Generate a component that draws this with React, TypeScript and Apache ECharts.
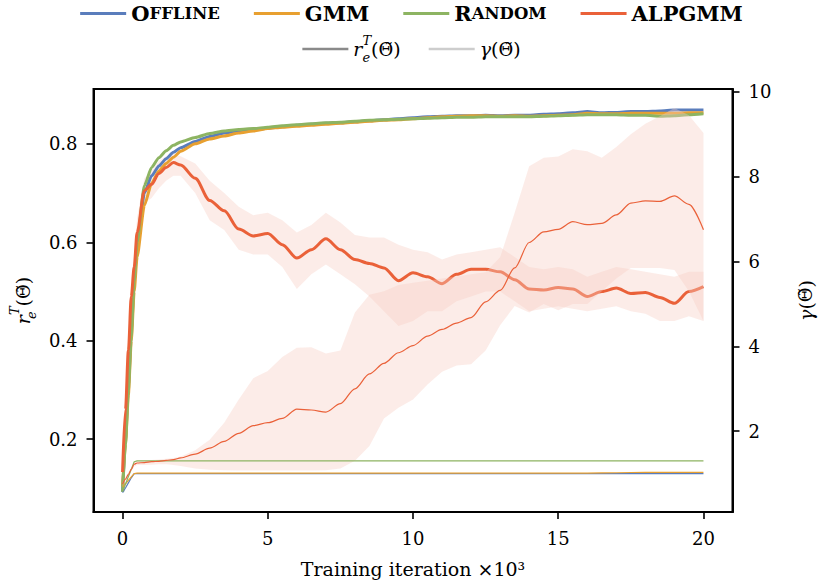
import React, { useEffect, useRef } from "react";
import * as echarts from "echarts";

// Training iterations (x 10^3)
const iterations = [
  0, 0.1, 0.2, 0.3, 0.4, 0.5, 0.75, 1, 1.25, 1.5, 1.75, 2,
  2.5, 3, 3.5, 4, 4.5, 5, 5.5, 6, 6.5, 7,
  7.5, 8, 8.5, 9, 9.5, 10, 10.5, 11, 11.5, 12,
  12.5, 13, 13.5, 14, 14.5, 15, 15.5, 16, 16.5, 17,
  17.5, 18, 18.5, 19, 19.5, 20,
];

// Reward r_e^T (left axis)
const offlineReward = [
  0.093, 0.2, 0.31, 0.42, 0.52, 0.59, 0.7, 0.735, 0.755, 0.77, 0.783, 0.792,
  0.805, 0.815, 0.822, 0.826, 0.829, 0.832, 0.835, 0.838, 0.84, 0.842,
  0.843, 0.845, 0.847, 0.849, 0.851, 0.853, 0.855, 0.856, 0.857, 0.857,
  0.858, 0.857, 0.858, 0.858, 0.86, 0.861, 0.863, 0.866, 0.863, 0.864,
  0.866, 0.866, 0.867, 0.869, 0.869, 0.869,
];
const gmmReward = [
  0.105, 0.19, 0.29, 0.4, 0.5, 0.57, 0.675, 0.72, 0.745, 0.76, 0.773, 0.785,
  0.8, 0.81, 0.816, 0.822, 0.826, 0.831, 0.834, 0.836, 0.838, 0.84,
  0.842, 0.844, 0.846, 0.848, 0.849, 0.851, 0.853, 0.855, 0.856, 0.857,
  0.857, 0.856, 0.857, 0.856, 0.857, 0.858, 0.859, 0.862, 0.861, 0.861,
  0.862, 0.862, 0.862, 0.862, 0.863, 0.863,
];
const randomReward = [
  0.093, 0.19, 0.3, 0.41, 0.52, 0.6, 0.715, 0.752, 0.772, 0.786, 0.797, 0.804,
  0.813, 0.821, 0.826, 0.829, 0.831, 0.834, 0.837, 0.839, 0.841, 0.843,
  0.844, 0.846, 0.848, 0.849, 0.85, 0.851, 0.852, 0.853, 0.854, 0.854,
  0.855, 0.855, 0.855, 0.855, 0.856, 0.857, 0.858, 0.859, 0.859, 0.859,
  0.858, 0.858, 0.856, 0.857, 0.859, 0.861,
];
const alpgmmReward = [
  0.133, 0.26, 0.38, 0.49, 0.55, 0.62, 0.705, 0.718, 0.74, 0.752, 0.762, 0.757,
  0.73, 0.685, 0.664, 0.627, 0.613, 0.618, 0.595, 0.568, 0.585, 0.607,
  0.585, 0.565, 0.557, 0.548, 0.522, 0.538, 0.53, 0.516, 0.535, 0.545,
  0.545, 0.54, 0.524, 0.505, 0.503, 0.508, 0.505, 0.49, 0.5, 0.507,
  0.496, 0.498, 0.488, 0.476, 0.5, 0.51,
];
const alpgmmRewardUpper = [
  0.14, 0.28, 0.41, 0.52, 0.58, 0.65, 0.73, 0.745, 0.765, 0.775, 0.78, 0.775,
  0.76, 0.725, 0.7, 0.672, 0.655, 0.66, 0.645, 0.62, 0.635, 0.66,
  0.64, 0.615, 0.61, 0.61, 0.595, 0.585, 0.58, 0.565, 0.575, 0.58,
  0.585, 0.59, 0.57, 0.55, 0.545, 0.55, 0.545, 0.53, 0.54, 0.55,
  0.545, 0.54, 0.535, 0.53, 0.54, 0.54,
];
const alpgmmRewardLower = [
  0.12, 0.24, 0.35, 0.46, 0.52, 0.59, 0.68, 0.69, 0.71, 0.725, 0.735, 0.735,
  0.7, 0.645, 0.625, 0.585, 0.575, 0.575, 0.55, 0.505, 0.535, 0.555,
  0.535, 0.515, 0.49, 0.46, 0.43, 0.44, 0.46, 0.46, 0.48, 0.49,
  0.5, 0.5, 0.48, 0.46, 0.465, 0.47, 0.465, 0.46, 0.465, 0.47,
  0.46, 0.455, 0.44, 0.44, 0.45, 0.44,
];

// gamma (right axis)
const offlineGamma = [
  0.55, 0.66, 0.78, 0.9, 1.0, 1.0, 1.0, 1.0, 1.0, 1.0, 1.0, 1.0,
  1.0, 1.0, 1.0, 1.0, 1.0, 1.0, 1.0, 1.0, 1.0, 1.0,
  1.0, 1.0, 1.0, 1.0, 1.0, 1.0, 1.0, 1.0, 1.0, 1.0,
  1.0, 1.0, 1.0, 1.0, 1.0, 1.0, 1.0, 1.0, 1.0, 1.0,
  1.0, 1.0, 1.0, 1.0, 1.0, 1.0,
];
const gmmGamma = [
  0.68, 0.76, 0.84, 0.92, 1.0, 1.01, 1.01, 1.01, 1.01, 1.01, 1.01, 1.01,
  1.01, 1.01, 1.01, 1.01, 1.01, 1.01, 1.01, 1.01, 1.01, 1.01,
  1.01, 1.01, 1.01, 1.01, 1.01, 1.01, 1.01, 1.01, 1.01, 1.01,
  1.01, 1.01, 1.01, 1.01, 1.01, 1.01, 1.01, 1.01, 1.015, 1.02,
  1.025, 1.03, 1.03, 1.03, 1.03, 1.03,
];
const randomGamma = [
  0.57, 0.75, 0.93, 1.1, 1.28, 1.3, 1.3, 1.3, 1.3, 1.3, 1.3, 1.3,
  1.3, 1.3, 1.3, 1.3, 1.3, 1.3, 1.3, 1.3, 1.3, 1.3,
  1.3, 1.3, 1.3, 1.3, 1.3, 1.3, 1.3, 1.3, 1.3, 1.3,
  1.3, 1.3, 1.3, 1.3, 1.3, 1.3, 1.3, 1.3, 1.3, 1.3,
  1.3, 1.3, 1.3, 1.3, 1.3, 1.3,
];
const alpgmmGamma = [
  0.75, 0.87, 0.98, 1.1, 1.22, 1.25, 1.26, 1.28, 1.29, 1.31, 1.33, 1.37,
  1.46, 1.6, 1.76, 1.95, 2.13, 2.2, 2.3, 2.52, 2.5, 2.45,
  2.65, 3.0, 3.35, 3.6, 3.85, 4.02, 4.24, 4.4, 4.55, 4.68,
  5.05, 5.32, 5.85, 6.45, 6.7, 6.76, 6.94, 6.87, 6.9, 7.1,
  7.38, 7.43, 7.42, 7.55, 7.35, 6.75,
];
const alpgmmGammaUpper = [
  0.8, 0.92, 1.03, 1.15, 1.27, 1.3, 1.31, 1.32, 1.33, 1.35, 1.37, 1.4,
  1.55, 1.8, 2.2, 2.75, 3.25, 3.42, 3.75, 3.97, 3.98, 3.83,
  3.9, 4.8, 5.22, 5.3, 5.45, 5.5, 5.55, 5.6, 5.65, 5.7,
  5.75, 6.1, 7.15, 8.25, 8.45, 8.48, 8.65, 8.6, 8.45, 8.7,
  9.0, 9.25, 9.43, 9.62, 9.45, 9.03,
];
const alpgmmGammaLower = [
  0.7, 0.82, 0.93, 1.05, 1.17, 1.2, 1.2, 1.21, 1.22, 1.22, 1.2, 1.18,
  1.12, 1.09, 1.08, 1.07, 1.07, 1.07, 1.07, 1.07, 1.07, 1.08,
  1.12, 1.3, 1.65, 2.3, 2.55, 2.75, 3.1, 3.4, 3.55, 3.58,
  3.9, 4.5, 4.95, 4.8, 5.0, 4.85, 5.0, 5.0, 5.3, 5.6,
  5.85, 5.85, 5.85, 5.8, 5.3, 4.6,
];

const xTicks = [0, 5, 10, 15, 20];
const leftTicks = [0.2, 0.4, 0.6, 0.8];
const rightTicks = [2, 4, 6, 8, 10];

const methodNames = ["Offline", "GMM", "Random", "ALPGMM"];
const methodColors = ["#5a7dbc", "#e8a030", "#8db462", "#ea6139"];

const SERIF = "DejaVu Serif";
const BAND_FILL = "rgba(247,205,195,0.38)";

const pairs = (ys: number[]) => iterations.map((x, i) => [x, ys[i]]);

const band = (lower: number[], upper: number[], yAxisIndex: number, z: number) => ({
  type: "custom",
  yAxisIndex,
  z,
  silent: true,
  clip: true,
  data: iterations.map((x, i) => [x, lower[i], upper[i]]),
  encode: { x: 0, y: [1, 2] },
  renderItem: (params: any, api: any) => {
    if (params.dataIndex !== 0) return null;
    const pts: number[][] = [];
    for (let i = 0; i < iterations.length; i++) pts.push(api.coord([iterations[i], upper[i]]));
    for (let i = iterations.length - 1; i >= 0; i--) pts.push(api.coord([iterations[i], lower[i]]));
    return { type: "polygon", shape: { points: pts }, style: { fill: BAND_FILL } };
  },
});

const mathRich = {
  i: { fontFamily: SERIF, fontStyle: "italic", fontSize: 19, lineHeight: 30, color: "#000" },
  n: { fontFamily: SERIF, fontSize: 19, lineHeight: 30, color: "#000" },
  t: { fontFamily: SERIF, fontSize: 18, lineHeight: 30, color: "#000" },
  sub: { fontFamily: SERIF, fontStyle: "italic", fontSize: 13, lineHeight: 13, width: 0, verticalAlign: "bottom", color: "#000" },
  sup: { fontFamily: SERIF, fontStyle: "italic", fontSize: 13, lineHeight: 13, verticalAlign: "top", color: "#000" },
};

const R_LABEL = "{i|r}{sub|e}{sup|T}{n|(}{t|Θ̃}{n|)}";
const G_LABEL = "{i|γ}{n|(}{t|Θ̃}{n|)}";

export default function App() {
  const ref = useRef<HTMLDivElement>(null);
  useEffect(() => {
    const chart = echarts.init(ref.current!, null, { renderer: "svg" });
    const rewards = [offlineReward, gmmReward, randomReward, alpgmmReward];
    const gammas = [offlineGamma, gmmGamma, randomGamma, alpgmmGamma];
    const series: any[] = [];
    series.push(band(alpgmmRewardLower, alpgmmRewardUpper, 0, 1));
    rewards.forEach((r, k) => {
      series.push({
        name: methodNames[k],
        type: "line",
        yAxisIndex: 0,
        z: 2,
        data: pairs(r),
        symbol: "none",
        smooth: k === 3 ? 0.3 : 0.2,
        smoothMonotone: "x",
        lineStyle: { color: methodColors[k], width: 3 },
        itemStyle: { color: methodColors[k] },
      });
    });
    series.push(band(alpgmmGammaLower, alpgmmGammaUpper, 1, 3));
    gammas.forEach((g, k) => {
      series.push({
        name: methodNames[k] + " γ",
        type: "line",
        yAxisIndex: 1,
        z: 4,
        data: pairs(g),
        symbol: "none",
        smooth: k === 3 ? 0.3 : 0,
        smoothMonotone: "x",
        lineStyle: { color: methodColors[k], width: 1.2 },
        itemStyle: { color: methodColors[k] },
      });
    });
    series.push({
      name: "rT", type: "line", yAxisIndex: 0, data: [], symbol: "none",
      lineStyle: { color: "#8a8a8a", width: 3 }, itemStyle: { color: "#8a8a8a" },
    });
    series.push({
      name: "gamma", type: "line", yAxisIndex: 1, data: [], symbol: "none",
      lineStyle: { color: "#cdcdcd", width: 1.6 }, itemStyle: { color: "#cdcdcd" },
    });

    const axisCommon = {
      axisLine: { show: true, onZero: false, lineStyle: { color: "#000", width: 2 } },
      splitLine: { show: false },
    };
    const tickStyle = { color: "#000", width: 1.6 };
    const labelStyle = { color: "#000", fontSize: 18, fontFamily: SERIF };

    chart.setOption({
      animation: false,
      backgroundColor: "#fff",
      textStyle: { fontFamily: SERIF, color: "#000" },
      grid: { left: 93, right: 82, top: 89, bottom: 70, show: true, borderColor: "#000", borderWidth: 2 },
      legend: [
        {
          data: methodNames,
          top: -2,
          left: "center",
          icon: "rect",
          itemWidth: 46,
          itemHeight: 3,
          itemGap: 34,
          selectedMode: false,
          formatter: (name: string) => {
            if (name === "Offline") return "{b|O}{s|FFLINE}";
            if (name === "Random") return "{b|R}{s|ANDOM}";
            return "{b|" + name + "}";
          },
          textStyle: {
            rich: {
              b: { fontFamily: SERIF, fontWeight: "bold", fontSize: 21, lineHeight: 26, color: "#000" },
              s: { fontFamily: SERIF, fontWeight: "bold", fontSize: 16.5, lineHeight: 26, color: "#000" },
            },
          },
        },
        {
          data: [
            { name: "rT", icon: "rect" },
            { name: "gamma", icon: "rect" },
          ],
          top: 29,
          left: "center",
          itemWidth: 46,
          itemHeight: 2.5,
          itemGap: 28,
          selectedMode: false,
          formatter: (name: string) => (name === "rT" ? R_LABEL : G_LABEL),
          textStyle: { rich: mathRich },
        },
      ],
      xAxis: {
        type: "value",
        min: -1,
        max: 21,
        ...axisCommon,
        axisTick: { show: true, customValues: xTicks, length: 7, lineStyle: tickStyle },
        axisLabel: { show: true, customValues: xTicks, margin: 17, ...labelStyle },
        name: "Training iteration ×10³",
        nameLocation: "middle",
        nameGap: 47,
        nameTextStyle: { ...labelStyle, fontSize: 19 },
      },
      yAxis: [
        {
          type: "value",
          position: "left",
          min: 0.052,
          max: 0.9115,
          ...axisCommon,
          axisTick: { show: true, customValues: leftTicks, length: 7, lineStyle: tickStyle },
          axisLabel: { show: true, customValues: leftTicks, margin: 16, ...labelStyle },
          name: R_LABEL,
          nameLocation: "middle",
          nameRotate: 90,
          nameGap: 52,
          nameTextStyle: { rich: mathRich },
        },
        {
          type: "value",
          position: "right",
          min: 0.094,
          max: 10.07,
          ...axisCommon,
          axisTick: { show: true, customValues: rightTicks, length: 7, lineStyle: tickStyle },
          axisLabel: { show: true, customValues: rightTicks, margin: 16, ...labelStyle },
          name: G_LABEL,
          nameLocation: "middle",
          nameRotate: 90,
          nameGap: 58,
          nameTextStyle: { rich: mathRich },
        },
      ],
      series,
    });
    return () => chart.dispose();
  }, []);
  return <div ref={ref} style={{ position: "fixed", left: 0, top: 0, width: 823, height: 583 }} />;
}
